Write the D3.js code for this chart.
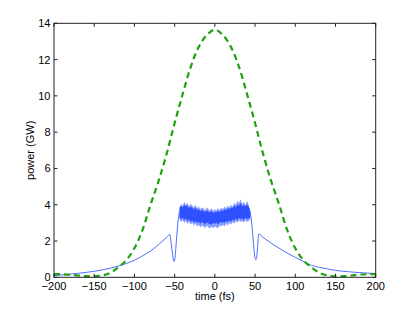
<!DOCTYPE html>
<html><head><meta charset="utf-8">
<script src="https://cdn.jsdelivr.net/npm/d3@7"></script>
<style>body{margin:0;background:#fff}svg{display:block}text{font-family:"Liberation Sans",Arial,sans-serif;fill:#000}</style>
</head><body><svg id="c" width="415" height="312"></svg>
<script>
// ---- data ----
const xTicks = [-200,-150,-100,-50,0,50,100,150,200];
const yTicks = [0,2,4,6,8,10,12,14];
// green dashed: input pulse
const greenT = [-200,-190,-180,-170,-160,-150,-140,-130,-120,-110,-100,-90,-80,-70,-60,-50,-40,-30,-20,-10,0,10,20,30,40,50,60,70,80,90,100,110,120,130,140,150,160,170,180,190,200];
const greenP = [0.18,0.17,0.15,0.1,0.06,0.05,0.1,0.25,0.55,0.95,1.6,2.6,4.0,5.3,6.8,8.5,10.1,11.6,12.7,13.35,13.65,13.35,12.7,11.6,10.1,8.5,6.8,5.3,4.0,2.6,1.6,0.95,0.55,0.25,0.1,0.05,0.06,0.1,0.15,0.17,0.18];
// blue: output pulse, left wing
const blueLeftT = [-200,-190,-180,-170,-160,-150,-140,-130,-120,-110,-100,-90,-80,-70,-60,-56,-54,-52,-51,-50,-48,-46,-44];
const blueLeftP = [0.1,0.13,0.17,0.22,0.27,0.33,0.41,0.5,0.62,0.76,0.94,1.18,1.45,1.8,2.2,2.36,1.75,1.1,0.88,0.95,1.9,3.0,3.6];
// blue: right wing
const blueRightT = [44,46,48,50,51,52,53,54.5,60,70,80,90,100,110,120,130,140,150,160,170,180,190,200];
const blueRightP = [3.6,2.9,1.9,1.05,0.97,1.1,1.6,2.38,2.2,1.88,1.6,1.33,1.1,0.88,0.66,0.55,0.46,0.38,0.33,0.29,0.26,0.23,0.21];
// blue: noisy plateau, outer envelope and dense core
const plateauT = [-44,-42,-40,-38,-36,-34,-32,-30,-28,-26,-24,-22,-20,-18,-16,-14,-12,-10,-8,-6,-4,-2,0,2,4,6,8,10,12,14,16,18,20,22,24,26,28,30,32,34,36,38,40,42,44];
const plateauHi = [3.7,4.05,3.95,4.15,4.0,4.1,3.9,4.05,3.95,3.85,4.0,3.8,3.9,3.75,3.85,3.8,3.7,3.85,3.75,3.7,3.8,3.65,3.75,3.7,3.8,3.7,3.85,3.75,3.9,3.8,3.95,3.85,4.0,3.9,4.1,4.0,4.2,4.1,4.3,4.05,4.15,4.0,4.2,4.0,3.6];
const plateauLo = [3.2,3.05,3.15,3.0,3.1,2.95,3.05,2.9,3.0,2.85,2.95,2.8,2.9,2.75,2.85,2.8,2.7,2.85,2.75,2.7,2.8,2.7,2.8,2.75,2.7,2.85,2.8,2.9,2.8,2.95,2.85,3.0,2.9,3.05,2.95,3.1,3.0,3.15,3.05,3.1,3.0,3.15,3.05,3.1,3.2];
const coreHi = [3.85,3.95,3.85,4.0,3.9,3.95,3.8,3.9,3.8,3.75,3.85,3.7,3.75,3.65,3.7,3.65,3.6,3.7,3.6,3.6,3.65,3.55,3.6,3.6,3.65,3.6,3.7,3.65,3.75,3.7,3.8,3.75,3.85,3.8,3.95,3.85,4.0,3.95,4.1,3.9,4.0,3.9,4.0,3.9,3.7];
const coreLo = [3.3,3.2,3.3,3.15,3.25,3.1,3.2,3.05,3.15,3.0,3.1,3.0,3.05,2.95,3.05,3.0,2.9,3.05,2.95,2.95,2.9,3.0,2.95,3.0,2.9,3.05,3.0,3.05,3.0,3.1,3.05,3.15,3.05,3.2,3.1,3.25,3.15,3.3,3.2,3.25,3.15,3.3,3.2,3.25,3.3];

// ---- layout ----
const L = 54, R = 375.7, T = 23.3, B = 277.3;
const svg = d3.select("#c");
const x = d3.scaleLinear().domain([-200,200]).range([L,R]);
const y = d3.scaleLinear().domain([0,14]).range([B,T]);

const g = svg.append("g");
const line = d3.line().x(d=>x(d[0])).y(d=>y(d[1])).curve(d3.curveMonotoneX);
const zip = (a,b)=>a.map((v,i)=>[v,b[i]]);

// plateau band
const area = d3.area().x(d=>x(d[0])).y0(d=>y(d[1])).y1(d=>y(d[2])).curve(d3.curveLinear);
g.append("path").datum(plateauT.map((t,i)=>[t,plateauLo[i],plateauHi[i]]))
  .attr("d",area).attr("fill","#6d86ff").attr("fill-opacity",0.8);
g.append("path").datum(plateauT.map((t,i)=>[t,coreLo[i],coreHi[i]]))
  .attr("d",area).attr("fill","#2e50ff");

// blue wings
g.append("path").datum(zip(blueLeftT,blueLeftP)).attr("d",line)
  .attr("fill","none").attr("stroke","#3a5cff").attr("stroke-width",0.9);
g.append("path").datum(zip(blueRightT,blueRightP)).attr("d",line)
  .attr("fill","none").attr("stroke","#3a5cff").attr("stroke-width",0.9);

// green dashed
g.append("path").datum(zip(greenT,greenP)).attr("d",line.curve(d3.curveCatmullRom))
  .attr("fill","none").attr("stroke","#1fa00f").attr("stroke-width",2.2)
  .attr("stroke-dasharray","6,4");

// axes box
const ax = svg.append("g");
const ink = "#222";
ax.append("rect").attr("x",L).attr("y",T).attr("width",R-L).attr("height",B-T)
  .attr("fill","none").attr("stroke",ink).attr("stroke-width",1);
const tl = 3.5;
xTicks.forEach(v=>{
  ax.append("line").attr("x1",x(v)).attr("x2",x(v)).attr("y1",B).attr("y2",B-tl).attr("stroke",ink);
  ax.append("line").attr("x1",x(v)).attr("x2",x(v)).attr("y1",T).attr("y2",T+tl).attr("stroke",ink);
  ax.append("text").attr("x",x(v)).attr("y",289.5).attr("text-anchor","middle")
    .attr("font-size",11).text(v<0?"\u2212"+Math.abs(v):String(v));
});
yTicks.forEach(v=>{
  ax.append("line").attr("x1",L).attr("x2",L+tl).attr("y1",y(v)).attr("y2",y(v)).attr("stroke",ink);
  ax.append("line").attr("x1",R).attr("x2",R-tl).attr("y1",y(v)).attr("y2",y(v)).attr("stroke",ink);
  ax.append("text").attr("x",50.5).attr("y",y(v)+4).attr("text-anchor","end")
    .attr("font-size",11).text(String(v));
});
svg.append("text").attr("x",(L+R)/2).attr("y",300).attr("text-anchor","middle")
  .attr("font-size",11).text("time (fs)");
svg.append("text").attr("transform",`translate(34,${(T+B)/2}) rotate(-90)`)
  .attr("text-anchor","middle").attr("font-size",11).text("power (GW)");
</script></body></html>
